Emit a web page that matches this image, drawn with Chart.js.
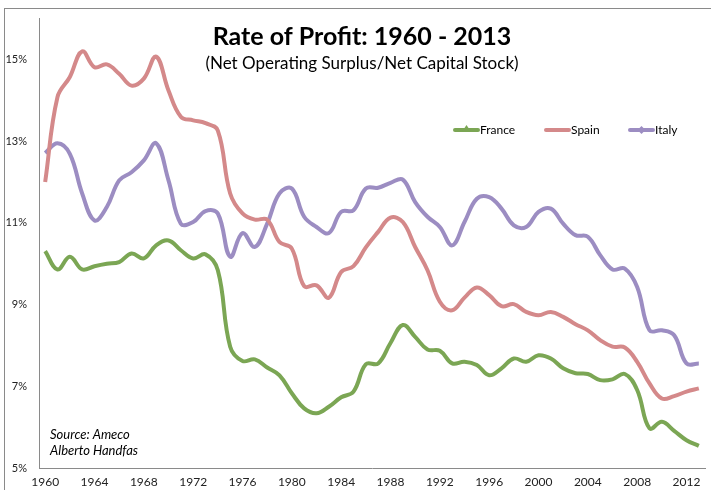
<!DOCTYPE html>
<html>
<head>
<meta charset="utf-8">
<script src="https://cdn.jsdelivr.net/npm/chart.js@4.4.1/dist/chart.umd.min.js"></script>
<style>
  body { margin: 0; background: #fff; }
  #wrap { position: relative; width: 711px; height: 490px; }
</style>
</head>
<body>
<div id="wrap"><canvas id="profit" width="711" height="490"></canvas></div>
<script>
// years on the x axis
var years = [];
for (var y = 1960; y <= 2013; y++) { years.push(String(y)); }

// rate of profit, %
var france = [10.31, 9.86, 10.17, 9.86, 9.94, 10.0, 10.04, 10.25, 10.13, 10.45,
              10.57, 10.33, 10.13, 10.23, 9.84, 7.97, 7.62, 7.66, 7.46, 7.27,
              6.83, 6.46, 6.34, 6.5, 6.73, 6.87, 7.54, 7.56, 8.06, 8.5,
              8.21, 7.9, 7.87, 7.56, 7.6, 7.52, 7.27, 7.44, 7.68, 7.6,
              7.76, 7.68, 7.44, 7.32, 7.3, 7.15, 7.17, 7.3, 6.91, 5.97,
              6.13, 5.91, 5.68, 5.54];
var spain = [12.0, 14.08, 14.57, 15.2, 14.81, 14.88, 14.65, 14.36, 14.53, 15.07,
             14.24, 13.6, 13.51, 13.44, 13.26, 11.72, 11.23, 11.08, 11.08, 10.53,
             10.37, 9.45, 9.47, 9.17, 9.8, 9.94, 10.4, 10.78, 11.13, 11.02,
             10.41, 9.84, 9.07, 8.86, 9.17, 9.42, 9.23, 8.96, 9.01, 8.82,
             8.74, 8.82, 8.7, 8.52, 8.37, 8.13, 7.97, 7.95, 7.6, 7.07,
             6.7, 6.76, 6.87, 6.95];
var italy = [12.71, 12.95, 12.69, 11.72, 11.06, 11.39, 12.04, 12.24, 12.53, 12.95,
             12.04, 10.98, 11.02, 11.29, 11.23, 10.17, 10.75, 10.41, 10.98, 11.72,
             11.84, 11.15, 10.9, 10.75, 11.27, 11.31, 11.84, 11.86, 11.98, 12.06,
             11.51, 11.15, 10.9, 10.45, 11.02, 11.59, 11.63, 11.35, 10.94, 10.9,
             11.27, 11.35, 10.98, 10.7, 10.66, 10.21, 9.86, 9.88, 9.43, 8.37,
             8.37, 8.25, 7.56, 7.56];

var yTicks = [5, 7, 9, 11, 13, 15];
var seriesNames = ['France', 'Spain', 'Italy'];
var seriesColors = ['#7ba654', '#d4898a', '#9c8dc2'];

var fontName = 'Lato, "Liberation Sans", sans-serif';

// title, legend, source note and the outer frame, drawn on the canvas
var extras = {
  id: 'extras',
  beforeDraw: function(chart) {
    var c = chart.ctx;
    c.save();
    c.fillStyle = '#fff';
    c.fillRect(0, 0, chart.width, chart.height);
    c.strokeStyle = '#8a8a8a';
    c.lineWidth = 1;
    c.strokeRect(4.5, 8.5, 800, 600);
    c.restore();
  },
  afterDraw: function(chart) {
    var c = chart.ctx;
    c.save();
    c.fillStyle = '#000';
    c.textAlign = 'center';
    c.textBaseline = 'middle';
    c.font = 'bold 25px ' + fontName;
    c.fillText('Rate of Profit: 1960 - 2013', 362, 37);
    c.font = '17px ' + fontName;
    c.fillText('(Net Operating Surplus/Net Capital Stock)', 362, 64);

    // legend
    var lx = [455, 546, 630];
    c.font = '12px ' + fontName;
    c.textAlign = 'left';
    for (var i = 0; i < 3; i++) {
      c.strokeStyle = seriesColors[i];
      c.fillStyle = seriesColors[i];
      c.lineWidth = 4;
      c.lineCap = 'round';
      c.beginPath();
      c.moveTo(lx[i], 130);
      c.lineTo(lx[i] + 23, 130);
      c.stroke();
      var mx = lx[i] + 11.5;
      if (i === 0) {
        c.beginPath();
        c.moveTo(mx, 125); c.lineTo(mx + 4, 131); c.lineTo(mx - 4, 131);
        c.closePath(); c.fill();
      } else if (i === 2) {
        c.beginPath();
        c.moveTo(mx, 126); c.lineTo(mx + 4, 130); c.lineTo(mx, 134); c.lineTo(mx - 4, 130);
        c.closePath(); c.fill();
      }
      c.fillStyle = '#000';
      c.fillText(seriesNames[i], lx[i] + 25, 130);
    }

    // source note
    c.font = 'italic 13px ' + fontName;
    c.fillText('Source: Ameco', 50, 435);
    c.fillText('Alberto Handfas', 50, 451);
    c.restore();
  }
};

function makeSet(name, data, color) {
  return {
    label: name,
    data: data,
    borderColor: color,
    backgroundColor: color,
    borderWidth: 4,
    pointRadius: 0,
    tension: 0.4,
    fill: false
  };
}

var ctx = document.getElementById('profit');
var myChart = new Chart(ctx, {
  type: 'line',
  data: {
    labels: years,
    datasets: [
      makeSet('France', france, seriesColors[0]),
      makeSet('Spain', spain, seriesColors[1]),
      makeSet('Italy', italy, seriesColors[2])
    ]
  },
  options: {
    responsive: false,
    animation: false,
    layout: { padding: { left: 0, top: 18, right: 6, bottom: 0 } },
    plugins: {
      legend: { display: false },
      tooltip: { enabled: false }
    },
    scales: {
      x: {
        offset: true,
        grid: { display: false, drawTicks: false },
        border: { color: '#8a8a8a', width: 1 },
        afterFit: function(scale) { scale.height = 22; },
        ticks: {
          autoSkip: false,
          maxRotation: 0,
          padding: 7,
          color: '#222',
          font: { family: fontName, size: 12 },
          callback: function(v, i) { return i % 4 === 0 ? years[i] : ''; }
        }
      },
      y: {
        min: 5,
        max: 16,
        grid: { display: false, drawTicks: false },
        border: { color: '#8a8a8a', width: 1 },
        afterFit: function(scale) { scale.width = 39; },
        afterBuildTicks: function(scale) {
          scale.ticks = yTicks.map(function(v) { return { value: v }; });
        },
        ticks: {
          padding: 12,
          color: '#222',
          font: { family: fontName, size: 11 },
          callback: function(v) { return v + '%'; }
        }
      }
    }
  },
  plugins: [extras]
});
</script>
</body>
</html>
